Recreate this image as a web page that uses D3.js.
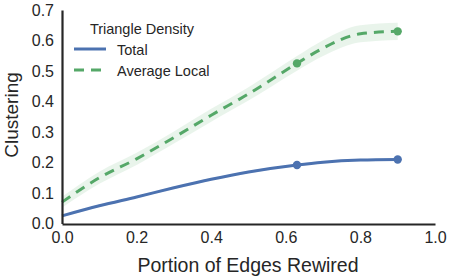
<!DOCTYPE html>
<html><head><meta charset="utf-8">
<script src="https://cdn.jsdelivr.net/npm/d3@7"></script>
<style>body{margin:0;background:#fff}svg{display:block}text{font-family:"Liberation Sans",Arial,sans-serif;fill:#262626}</style>
</head><body><svg id="c" width="450" height="278"></svg>
<script>
const xs = [0, 0.1, 0.2, 0.3, 0.4, 0.5, 0.63, 0.7, 0.8, 0.9];
const totalVals = [0.025, 0.058, 0.087, 0.117, 0.145, 0.169, 0.192, 0.201, 0.208, 0.21];
const totalErr = [0.004, 0.004, 0.004, 0.004, 0.004, 0.004, 0.004, 0.004, 0.004, 0.004];
const localVals = [0.07, 0.15, 0.212, 0.282, 0.355, 0.425, 0.525, 0.575, 0.622, 0.63];
const localErr = [0.018, 0.02, 0.02, 0.02, 0.021, 0.022, 0.024, 0.026, 0.028, 0.028];
const markerXs = [0.63, 0.9];
const xTicks = [0, 0.2, 0.4, 0.6, 0.8, 1.0];
const yTicks = [0, 0.1, 0.2, 0.3, 0.4, 0.5, 0.6, 0.7];
const seriesNames = ["Total", "Average Local"];
const legendTitle = "Triangle Density";

const svg = d3.select("#c");
const x = d3.scaleLinear().domain([0, 1]).range([62, 435]);
const y = d3.scaleLinear().domain([0, 0.7]).range([223.5, 10]);

const series = [
  {name: seriesNames[0], vals: totalVals, err: totalErr, color: "#4c72b0", dash: null},
  {name: seriesNames[1], vals: localVals, err: localErr, color: "#55a868", dash: "10,7"}
];

const curve = d3.curveMonotoneX;
series.forEach(s => {
  const pts = xs.map((v, i) => ({x: v, y: s.vals[i], e: s.err[i]}));
  svg.append("path").datum(pts)
    .attr("d", d3.area().x(d => x(d.x)).y0(d => y(d.y - d.e)).y1(d => y(d.y + d.e)).curve(curve))
    .attr("fill", s.color).attr("fill-opacity", 0.13);
});
series.forEach(s => {
  const pts = xs.map((v, i) => ({x: v, y: s.vals[i]}));
  svg.append("path").datum(pts)
    .attr("d", d3.line().x(d => x(d.x)).y(d => y(d.y)).curve(curve))
    .attr("fill", "none").attr("stroke", s.color).attr("stroke-width", 3)
    .attr("stroke-dasharray", s.dash);
  markerXs.forEach(mx => {
    const i = xs.indexOf(mx);
    svg.append("circle").attr("cx", x(mx)).attr("cy", y(s.vals[i])).attr("r", 4.2).attr("fill", s.color);
  });
});

// axes
const xa = svg.append("g").attr("transform", "translate(0,224)")
  .call(d3.axisBottom(x).tickValues(xTicks).tickFormat(d3.format(".1f")).tickSize(0).tickPadding(8));
const ya = svg.append("g").attr("transform", "translate(62,0)")
  .call(d3.axisLeft(y).tickValues(yTicks).tickFormat(d3.format(".1f")).tickSize(0).tickPadding(8));
[xa, ya].forEach(a => {
  a.select(".domain").attr("stroke", "#262626").attr("stroke-width", 2.2);
  a.selectAll("text").attr("font-size", 16).style("fill", "#262626").attr("font-family", "Liberation Sans, Arial, sans-serif");
});

svg.append("text").attr("x", 248).attr("y", 272).attr("text-anchor", "middle")
  .attr("font-size", 19.5).text("Portion of Edges Rewired");
svg.append("text").attr("transform", "translate(18,115) rotate(-90)").attr("text-anchor", "middle")
  .attr("font-size", 19).text("Clustering");

// legend
svg.append("text").attr("x", 142).attr("y", 34).attr("text-anchor", "middle").attr("font-size", 14.5).text(legendTitle);
series.forEach((s, i) => {
  const ly = 49 + i * 21;
  svg.append("line").attr("x1", 74).attr("x2", 106).attr("y1", ly).attr("y2", ly)
    .attr("stroke", s.color).attr("stroke-width", 3).attr("stroke-dasharray", s.dash);
  svg.append("text").attr("x", 117).attr("y", ly + 5.5).attr("font-size", 14.5).text(s.name);
});
</script></body></html>
